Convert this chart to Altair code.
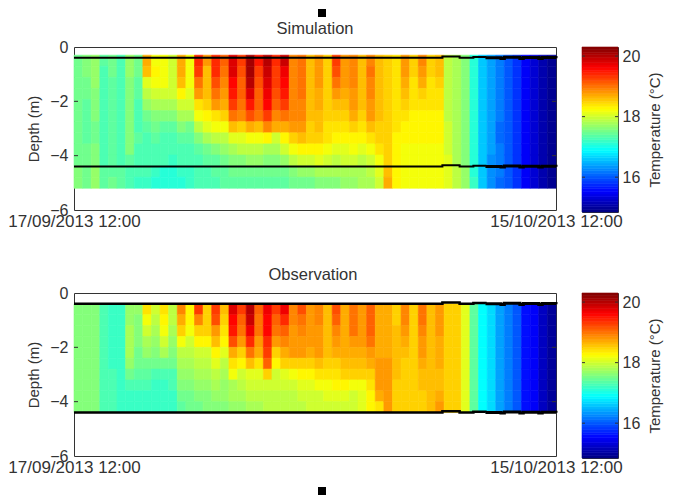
import altair as alt
import pandas as pd

days_total = 28.0
n_cols = 56
col_w = days_total / n_cols

sim_top, sim_step = -0.3, 4.9 / 12
obs_top, obs_step = -0.4, 4.0 / 10

# Temperature profiles, one list per half-day column, surface to bottom
sim = [
 [17.5,17.5,17.5,17.5,17.5,17.5,17.5,17.5,17.5,17.5,17.6,17.6],
 [17.6,17.6,17.5,17.5,17.4,17.4,17.4,17.4,17.5,17.5,17.5,17.5],
 [17.7,17.7,17.7,17.6,17.6,17.6,17.5,17.5,17.6,17.6,17.7,17.7],
 [17.4,17.3,17.3,17.3,17.3,17.3,17.3,17.3,17.3,17.3,17.4,17.4],
 [17.5,17.5,17.4,17.4,17.4,17.4,17.4,17.4,17.4,17.4,17.4,17.5],
 [17.3,17.3,17.3,17.3,17.3,17.3,17.3,17.3,17.3,17.3,17.4,17.4],
 [17.7,17.7,17.6,17.6,17.6,17.6,17.6,17.6,17.6,17.4,17.3,17.3],
 [17.5,17.5,17.4,17.4,17.3,17.3,17.3,17.4,17.3,17.3,17.3,17.2],
 [18.7,18.6,18.1,17.9,17.7,17.5,17.4,17.3,17.3,17.3,17.3,17.2],
 [18.2,18.3,18.2,18.0,17.8,17.6,17.5,17.4,17.3,17.3,17.2,17.1],
 [18.2,18.2,18.2,18.0,17.8,17.6,17.4,17.3,17.3,17.3,17.1,17.1],
 [18.0,18.0,18.0,18.0,17.8,17.6,17.4,17.3,17.3,17.2,17.1,17.1],
 [18.7,18.7,18.6,18.3,18.0,17.8,17.6,17.4,17.3,17.3,17.2,17.1],
 [18.2,18.2,18.2,18.1,18.0,17.8,17.5,17.4,17.3,17.3,17.2,17.2],
 [19.4,19.3,19.0,18.8,18.4,18.2,17.9,17.6,17.4,17.3,17.3,17.3],
 [18.8,18.6,18.6,18.6,18.5,18.3,18.1,17.8,17.5,17.4,17.3,17.3],
 [19.4,19.4,19.2,19.0,18.8,18.4,18.2,17.9,17.6,17.4,17.4,17.3],
 [19.1,19.0,18.9,18.8,18.7,18.5,18.2,17.9,17.7,17.5,17.4,17.4],
 [19.8,19.8,19.6,19.5,19.3,19.0,18.6,18.1,17.8,17.6,17.5,17.4],
 [19.3,19.2,19.1,19.1,19.0,18.9,18.5,18.1,17.9,17.6,17.5,17.4],
 [20.1,20.1,20.0,19.8,19.5,19.2,18.7,18.2,17.9,17.7,17.5,17.4],
 [19.5,19.3,19.2,19.1,19.1,19.0,18.6,18.2,17.9,17.7,17.5,17.4],
 [20.0,19.9,19.8,19.7,19.6,19.3,18.9,18.3,17.8,17.6,17.5,17.4],
 [19.4,19.3,19.3,19.2,19.1,18.9,18.7,18.0,17.8,17.6,17.5,17.4],
 [19.9,19.7,19.6,19.5,19.3,19.0,18.7,18.3,18.0,17.7,17.5,17.4],
 [18.9,18.9,18.9,18.9,18.9,18.9,18.8,18.5,18.2,17.9,17.6,17.5],
 [19.0,19.0,19.0,19.0,18.9,18.9,18.8,18.6,18.3,18.0,17.7,17.5],
 [18.6,18.6,18.6,18.6,18.6,18.6,18.5,18.5,18.3,18.0,17.7,17.5],
 [18.8,18.8,18.8,18.7,18.7,18.6,18.6,18.5,18.3,18.1,17.8,17.6],
 [18.5,18.5,18.5,18.5,18.5,18.5,18.4,18.4,18.2,18.0,17.8,17.6],
 [19.3,19.2,19.0,18.8,18.6,18.5,18.4,18.3,18.1,17.9,17.8,17.6],
 [18.8,18.8,18.8,18.7,18.6,18.5,18.4,18.3,18.1,18.0,17.8,17.7],
 [18.9,18.9,18.9,18.8,18.8,18.7,18.5,18.3,18.2,18.0,17.8,17.7],
 [18.6,18.6,18.6,18.6,18.6,18.5,18.4,18.3,18.1,17.9,17.8,17.8],
 [18.9,19.0,18.9,18.9,18.8,18.8,18.6,18.4,18.2,18.0,17.9,17.8],
 [18.6,18.6,18.6,18.6,18.6,18.6,18.5,18.5,18.4,18.2,18.1,18.0],
 [18.5,18.5,18.5,18.5,18.5,18.5,18.5,18.5,18.5,18.5,18.6,18.7],
 [18.4,18.4,18.4,18.4,18.4,18.4,18.4,18.3,18.3,18.3,18.3,18.3],
 [18.8,18.8,18.7,18.6,18.5,18.4,18.3,18.3,18.2,18.2,18.2,18.2],
 [18.5,18.5,18.4,18.4,18.4,18.3,18.3,18.3,18.2,18.2,18.2,18.2],
 [18.9,18.8,18.7,18.5,18.4,18.3,18.3,18.3,18.2,18.2,18.2,18.2],
 [18.5,18.5,18.4,18.4,18.4,18.3,18.3,18.3,18.2,18.2,18.2,18.2],
 [18.6,18.6,18.5,18.4,18.4,18.3,18.3,18.3,18.2,18.2,18.2,18.2],
 [17.9,17.9,17.9,17.9,17.9,17.9,18.0,18.0,18.0,18.1,18.1,18.1],
 [17.8,17.8,17.8,17.8,17.8,17.8,17.8,17.8,17.8,17.8,17.9,17.9],
 [17.6,17.6,17.6,17.6,17.6,17.6,17.6,17.6,17.6,17.6,17.7,17.7],
 [17.1,17.1,17.1,17.1,17.1,17.1,17.1,17.1,17.1,17.1,17.1,17.2],
 [16.6,16.6,16.6,16.6,16.6,16.6,16.6,16.6,16.6,16.6,16.6,16.6],
 [16.4,16.4,16.4,16.4,16.4,16.4,16.4,16.4,16.4,16.3,16.3,16.3],
 [16.2,16.2,16.2,16.2,16.2,16.2,16.1,16.1,16.2,16.2,16.2,16.1],
 [16.0,16.0,16.0,16.0,16.0,16.0,16.0,16.0,16.0,16.0,16.0,16.0],
 [15.8,15.8,15.8,15.8,15.8,15.8,15.8,15.8,15.8,15.8,15.8,15.8],
 [15.5,15.5,15.5,15.5,15.5,15.5,15.5,15.5,15.5,15.5,15.5,15.5],
 [15.3,15.3,15.3,15.3,15.3,15.3,15.3,15.3,15.3,15.3,15.3,15.3],
 [15.1,15.1,15.1,15.1,15.1,15.1,15.1,15.1,15.1,15.1,15.1,15.1],
 [14.95,14.95,14.95,14.95,14.95,14.95,14.95,14.95,14.95,14.95,14.95,14.95],
]

obs = [
 [17.6,17.6,17.6,17.6,17.6,17.6,17.6,17.6,17.6,17.6],
 [17.6,17.6,17.6,17.6,17.6,17.6,17.6,17.6,17.6,17.6],
 [17.6,17.6,17.6,17.6,17.6,17.6,17.6,17.6,17.6,17.6],
 [17.3,17.3,17.3,17.3,17.3,17.3,17.3,17.3,17.3,17.3],
 [17.2,17.2,17.2,17.2,17.2,17.2,17.3,17.3,17.3,17.3],
 [17.2,17.2,17.2,17.2,17.2,17.2,17.2,17.2,17.2,17.2],
 [17.7,17.7,17.8,17.8,17.8,17.7,17.5,17.3,17.2,17.2],
 [17.7,17.6,17.6,17.6,17.5,17.5,17.4,17.3,17.2,17.2],
 [18.4,18.2,18.0,17.8,17.7,17.5,17.4,17.3,17.2,17.2],
 [18.0,17.9,17.8,17.7,17.6,17.5,17.3,17.2,17.2,17.2],
 [18.4,18.3,18.2,18.0,17.8,17.5,17.3,17.2,17.2,17.2],
 [17.9,17.9,17.8,17.7,17.6,17.5,17.3,17.3,17.2,17.2],
 [18.9,18.7,18.5,18.2,17.9,17.8,17.7,17.6,17.5,17.4],
 [18.3,18.3,18.2,18.0,17.9,17.8,17.7,17.6,17.5,17.5],
 [19.3,18.9,18.5,18.3,18.0,17.9,17.8,17.7,17.6,17.5],
 [18.5,18.5,18.5,18.3,18.0,17.9,17.8,17.7,17.6,17.6],
 [19.3,19.2,18.8,18.6,18.3,18.1,17.9,17.8,17.7,17.6],
 [18.6,18.5,18.4,18.3,18.1,17.9,17.8,17.7,17.7,17.6],
 [19.8,19.6,19.5,19.2,18.7,18.4,18.2,17.8,17.8,17.7],
 [19.3,19.1,19.0,18.8,18.5,18.3,18.0,17.9,17.8,17.7],
 [20.0,19.9,19.7,19.4,19.0,18.6,18.1,18.0,17.9,17.8],
 [19.1,19.0,19.0,18.8,18.7,18.4,18.1,18.0,17.9,17.8],
 [19.7,19.6,19.6,19.4,19.3,19.1,18.5,18.0,17.9,17.9],
 [19.3,19.1,19.0,18.8,18.5,18.3,18.0,18.0,17.9,17.9],
 [19.7,19.4,19.1,18.9,18.7,18.5,18.1,18.0,17.9,17.9],
 [18.9,18.9,18.8,18.8,18.8,18.5,18.2,18.0,17.9,17.9],
 [19.2,19.0,18.9,18.8,18.8,18.5,18.3,18.1,18.0,17.9],
 [18.8,18.8,18.8,18.8,18.7,18.5,18.3,18.1,18.0,18.0],
 [18.9,18.9,18.8,18.8,18.8,18.6,18.4,18.2,18.0,18.0],
 [18.6,18.6,18.6,18.6,18.6,18.5,18.4,18.2,18.1,18.0],
 [19.2,19.1,18.9,18.8,18.7,18.5,18.4,18.3,18.1,18.0],
 [18.7,18.7,18.7,18.7,18.7,18.6,18.5,18.3,18.1,18.0],
 [19.0,19.0,19.0,18.8,18.7,18.6,18.5,18.2,18.0,18.0],
 [18.8,18.8,18.8,18.8,18.7,18.6,18.5,18.2,18.1,18.1],
 [19.1,19.1,19.1,19.0,18.8,18.7,18.5,18.4,18.3,18.3],
 [18.7,18.7,18.7,18.7,18.7,18.8,18.8,18.8,18.7,18.4],
 [18.7,18.7,18.7,18.7,18.7,18.8,18.8,18.8,18.8,18.8],
 [18.5,18.5,18.6,18.6,18.6,18.6,18.6,18.5,18.5,18.5],
 [18.9,18.9,18.8,18.7,18.6,18.5,18.5,18.5,18.5,18.5],
 [18.5,18.5,18.5,18.5,18.5,18.5,18.5,18.5,18.5,18.5],
 [19.0,19.0,18.9,18.8,18.8,18.7,18.6,18.6,18.5,18.5],
 [18.6,18.6,18.6,18.6,18.6,18.6,18.6,18.6,18.6,18.6],
 [18.8,18.8,18.8,18.7,18.7,18.7,18.6,18.6,18.7,18.8],
 [18.5,18.5,18.5,18.5,18.5,18.5,18.5,18.5,18.5,18.5],
 [18.5,18.5,18.5,18.5,18.5,18.5,18.5,18.5,18.5,18.5],
 [18.1,18.1,18.1,18.1,18.1,18.1,18.1,18.1,18.1,18.1],
 [17.4,17.4,17.4,17.4,17.4,17.4,17.4,17.4,17.4,17.4],
 [16.9,16.9,16.9,16.9,16.9,16.9,16.9,16.9,16.9,16.9],
 [16.7,16.7,16.7,16.7,16.7,16.7,16.7,16.7,16.7,16.7],
 [16.4,16.4,16.4,16.4,16.4,16.4,16.4,16.4,16.4,16.4],
 [16.2,16.2,16.2,16.2,16.2,16.2,16.2,16.2,16.2,16.2],
 [16.0,16.0,16.0,16.0,16.0,16.0,16.0,16.0,16.0,16.0],
 [15.6,15.6,15.6,15.6,15.6,15.6,15.6,15.6,15.6,15.6],
 [15.5,15.5,15.5,15.5,15.5,15.5,15.5,15.5,15.5,15.5],
 [15.2,15.2,15.2,15.2,15.2,15.2,15.2,15.2,15.2,15.2],
 [15.0,15.0,15.0,15.0,15.0,15.0,15.0,15.0,15.0,15.0],
]

line_days = [0, 21.2, 21.4, 22.2, 22.4, 23.0, 23.2, 23.9]
line_offs = [0, 0, 0.05, 0.05, 0, 0, 0.03, 0]
line_days_late = [23.9, 24.8, 25.0, 25.9, 26.1, 27.0, 27.2, 28]
line_offs_late = [0, -0.02, 0.02, -0.02, 0.01, -0.02, 0.01, -0.01]
line_depths = [-0.4, -4.4]

depth_ticks = [0, -2, -4, -6]
x_tick_days = [0, 28]
x_tick_text = ["17/09/2013 12:00", "15/10/2013 12:00"]
temp_ticks = [16, 18, 20]

cb_min, cb_max = 14.85, 20.3
jet = ["#00007f", "#0000ff", "#007fff", "#00ffff", "#7fff7f", "#ffff00", "#ff7f00", "#ff0000", "#7f0000"]
jet_pos = [cb_min + (cb_max - cb_min) * i / 8 for i in range(9)]
color_scale = alt.Scale(domain=jet_pos, range=jet, interpolate="rgb", clamp=True)

FONT = "Liberation Sans"
TXT = "#333333"
PW, PH = 482, 163
CW, CH = 36, 165


def cells(profiles, top, step):
    rows = []
    for k, prof in enumerate(profiles):
        for i, v in enumerate(prof):
            rows.append(dict(d0=k * col_w, d1=(k + 1) * col_w,
                             z0=top - i * step, z1=top - (i + 1) * step, t=v))
    return pd.DataFrame(rows)


def panel(title, title_x, profiles, top, step, width_main, width_late, extra):
    x_scale = alt.Scale(domain=[0, days_total], nice=False, zero=False)
    y_scale = alt.Scale(domain=[-6, 0], nice=False, zero=False)
    label_expr = f"datum.value == 0 ? '{x_tick_text[0]}' : '{x_tick_text[1]}'"
    heat = alt.Chart(cells(profiles, top, step)).mark_rect(strokeWidth=0.6).encode(
        x=alt.X("d0:Q", scale=x_scale, title=None,
                axis=alt.Axis(values=x_tick_days, labelExpr=label_expr, ticks=False, domain=False,
                              grid=False, labelFontSize=17, labelFont=FONT, labelColor=TXT,
                              labelOverlap=False, labelFlush=False, labelBound=False, labelPadding=3)),
        x2="d1:Q",
        y=alt.Y("z0:Q", scale=y_scale,
                axis=alt.Axis(values=depth_ticks, title="Depth (m)", ticks=False, domain=False, grid=False,
                              labelFontSize=16, labelFont=FONT, labelColor=TXT, labelPadding=6,
                              titleFont=FONT, titleFontSize=15, titleFontWeight="normal", titleColor=TXT,
                              titlePadding=8)),
        y2="z1:Q",
        color=alt.Color("t:Q", scale=color_scale, legend=None),
        stroke=alt.Stroke("t:Q", scale=color_scale, legend=None),
    )
    layers = [heat]
    for base in line_depths:
        d1 = pd.DataFrame({"d": line_days, "z": [base + o for o in line_offs]})
        d2 = pd.DataFrame({"d": line_days_late, "z": [base + o for o in line_offs_late]})
        layers.append(alt.Chart(d1).mark_line(color="black", strokeWidth=width_main, interpolate="step-after")
                      .encode(x=alt.X("d:Q", scale=x_scale), y=alt.Y("z:Q", scale=y_scale)))
        layers.append(alt.Chart(d2).mark_line(color="black", strokeWidth=width_late, interpolate="step-after")
                      .encode(x=alt.X("d:Q", scale=x_scale), y=alt.Y("z:Q", scale=y_scale)))
    tk = pd.DataFrame({"z": depth_ticks[1:-1]})
    layers.append(alt.Chart(tk).mark_rule(color=TXT).encode(
        x=alt.value(0), x2=alt.value(4), y=alt.Y("z:Q", scale=y_scale)))
    layers.append(alt.Chart(tk).mark_rule(color=TXT).encode(
        x=alt.value(PW - 4), x2=alt.value(PW), y=alt.Y("z:Q", scale=y_scale)))
    layers.append(alt.Chart(pd.DataFrame({"s": [title]})).mark_text(
        font=FONT, fontSize=16.5, color=TXT, align="center", baseline="middle").encode(
        x=alt.value(title_x), y=alt.value(-18), text="s:N"))
    layers += extra
    return alt.layer(*layers).properties(width=PW, height=PH)


def colorbar():
    n = 64
    step = (cb_max - cb_min) / n
    levels = pd.DataFrame([dict(a=cb_min + i * step, b=cb_min + (i + 1) * step, t=cb_min + (i + .5) * step)
                           for i in range(n)])
    y_scale = alt.Scale(domain=[cb_min, cb_max], nice=False, zero=False)
    bar = alt.Chart(levels).mark_rect(strokeWidth=0.6).encode(
        y=alt.Y("a:Q", scale=y_scale,
                axis=alt.Axis(orient="right", values=temp_ticks, title="Temperature (°C)", ticks=False,
                              domain=False, grid=False, labelFontSize=16, labelFont=FONT, labelColor=TXT,
                              labelPadding=4, titleFont=FONT, titleFontSize=15, titleFontWeight="normal",
                              titleColor=TXT, titleAngle=270, titlePadding=23)),
        y2="b:Q",
        color=alt.Color("t:Q", scale=color_scale, legend=None),
        stroke=alt.Stroke("t:Q", scale=color_scale, legend=None),
    )
    tk = pd.DataFrame({"v": temp_ticks})
    left = alt.Chart(tk).mark_rule(color=TXT).encode(x=alt.value(0), x2=alt.value(3), y=alt.Y("v:Q", scale=y_scale))
    right = alt.Chart(tk).mark_rule(color=TXT).encode(x=alt.value(CW - 3), x2=alt.value(CW), y=alt.Y("v:Q", scale=y_scale))
    return alt.layer(bar, left, right).properties(width=CW, height=CH)


top_mark = alt.Chart(pd.DataFrame({"a": [0]})).mark_rect(color="black").encode(
    x=alt.value(244), x2=alt.value(252), y=alt.value(-38), y2=alt.value(-30))
bottom_mark = alt.Chart(pd.DataFrame({"a": [0]})).mark_rect(color="black").encode(
    x=alt.value(244), x2=alt.value(252), y=alt.value(194), y2=alt.value(202))

chart = alt.concat(
    panel("Simulation", 241, sim, sim_top, sim_step, 2, 3, [top_mark]), colorbar(),
    panel("Observation", 239, obs, obs_top, obs_step, 2.5, 3, [bottom_mark]), colorbar(),
    columns=2, spacing=alt.RowColnumber(row=81, column=26), bounds="flush",
).properties(padding={"left": -1, "top": 0, "right": 0, "bottom": 0}, background="white").configure_view(stroke="#333333", strokeWidth=1)

chart.save("out.html", embed_options={"renderer": "svg", "actions": False})
